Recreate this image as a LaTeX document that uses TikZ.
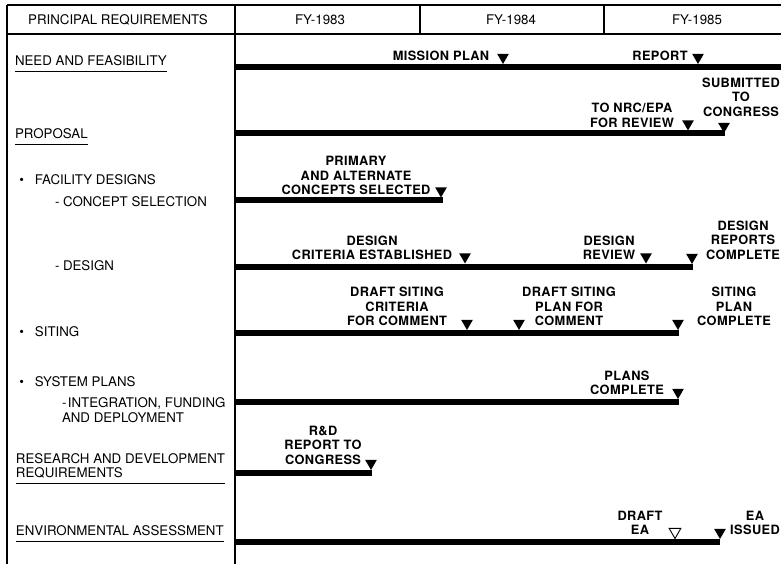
\documentclass[tikz,border=0pt]{standalone}
\usepackage{fontspec}
\setmainfont{TeX Gyre Heros}[BoldFeatures={LetterSpace=3}]
\usetikzlibrary{shapes.geometric,positioning}

\begin{document}
\begin{tikzpicture}[x=1pt,y=-1pt,
  every node/.append style={inner sep=0pt, outer sep=0pt, text=black},
  hdr/.style={font=\fontsize{13.3}{14.5}\selectfont},
  req/.style={anchor=west, align=left, font=\fontsize{13.3}{14.5}\selectfont},
  lbl/.style={align=center, font=\bfseries\fontsize{12.8}{14.5}\selectfont},
  tri/.style={regular polygon, regular polygon sides=3, shape border rotate=180,
    fill=black, minimum size=13.5pt, anchor=corner 1},
  opentri/.style={tri, fill=white, draw=black, line width=0.9pt},
  bar/.style={draw, line width=6pt},
  rule/.style={draw, line width=1.2pt},
  uline/.style={draw, line width=1pt}]
\useasboundingbox (0,0) rectangle (781,564);

% table
\draw[rule] (7,5) -- (781,5);
\draw[rule] (7,34) -- (781,34);
\draw[rule] (7,5) -- (7,564);
\draw[rule] (235,5) -- (235,564);
\draw[rule] (420,5) -- (420,34);
\draw[rule] (604,5) -- (604,34);
\node[hdr] (h-req) at (118,20) {PRINCIPAL REQUIREMENTS};
\node[hdr] (h-83) at (320,20) {FY-1983};
\node[hdr] (h-84) at (511,20) {FY-1984};
\node[hdr] (h-85) at (697,20) {FY-1985};

% requirements
\node[req] (need) at (15,61) {NEED AND FEASIBILITY};
\node[req] (proposal) at (15,134) {PROPOSAL};
\node[req] (facility) at (19.5,180) {\textbullet\hspace{10.8pt}FACILITY DESIGNS};
\node[req] (concept) at (55,202) {-\hspace{3.6pt}CONCEPT SELECTION};
\node[req] (design) at (55,266) {-\hspace{3.6pt}DESIGN};
\node[req] (siting) at (19.5,332) {\textbullet\hspace{10.8pt}SITING};
\node[req] (sysplans) at (19.5,382) {\textbullet\hspace{10.8pt}SYSTEM PLANS};
\node[req] (integration) at (62,410) {-\hspace{1.5pt}INTEGRATION, FUNDING\\AND DEPLOYMENT};
\node[req] (research) at (16,466) {RESEARCH AND DEVELOPMENT\\REQUIREMENTS};
\node[req] (environ) at (16,531) {ENVIRONMENTAL ASSESSMENT};
\foreach \n in {need,proposal,research,environ}
  \draw[uline] ([yshift=-5pt]\n.south west) -- ([yshift=-5pt]\n.south east);

% bars
\foreach \n/\y/\e in {need/67/790,proposal/133/725,concept/200/443,design/266.5/693,
    siting/333/679,sysplans/402/679,research/473/372,environ/542/720} {
  \coordinate (\n-s) at (235,\y);
  \coordinate (\n-e) at (\e,\y);
  \draw[bar] (\n-s) -- (\n-e);
}

% milestones
\node[tri] (t-mission) at (503,64) {};
\node[tri] (t-report) at (698,64) {};
\node[tri] (t-review) at (688,130.5) {};
\node[tri] (t-submit) at (724,133) {};
\node[tri] (t-concept) at (441,197.5) {};
\node[tri] (t-criteria) at (465,263.5) {};
\node[tri] (t-dreview) at (646,263.5) {};
\node[tri] (t-dreports) at (692,264) {};
\node[tri] (t-scriteria) at (467,330) {};
\node[tri] (t-splan) at (519,330) {};
\node[tri] (t-scomplete) at (678,330) {};
\node[tri] (t-plans) at (678,399) {};
\node[tri] (t-rnd) at (371,470) {};
\node[opentri] (t-draftea) at (675,538.5) {};
\node[tri] (t-eaissued) at (720,539) {};

\node[lbl] (l-mission) at (441,56) {MISSION PLAN};
\node[lbl] (l-report) at (660,56) {REPORT};
\node[lbl] (l-review) at (632,115.5) {TO NRC/EPA\\FOR REVIEW};
\node[lbl] (l-submit) at (741,97) {SUBMITTED\\TO\\CONGRESS};
\node[lbl] (l-concept) at (356,175.5) {PRIMARY\\AND ALTERNATE\\CONCEPTS SELECTED};
\node[lbl] (l-criteria) at (372,248) {DESIGN\\CRITERIA ESTABLISHED};
\node[lbl] (l-dreview) at (609,248) {DESIGN\\REVIEW};
\node[lbl] (l-dreports) at (743,240) {DESIGN\\REPORTS\\COMPLETE};
\node[lbl] (l-scriteria) at (397,306.5) {DRAFT SITING\\CRITERIA\\FOR COMMENT};
\node[lbl] (l-splan) at (569,306.5) {DRAFT SITING\\PLAN FOR\\COMMENT};
\node[lbl] (l-scomplete) at (734,306.5) {SITING\\PLAN\\COMPLETE};
\node[lbl] (l-plans) at (627,383) {PLANS\\COMPLETE};
\node[lbl] (l-rnd) at (323,445) {R\&D\\REPORT TO\\CONGRESS};
\node[lbl] (l-draftea) at (640,523) {DRAFT\\EA};
\node[lbl] (l-eaissued) at (755,523) {EA\\ISSUED};
\end{tikzpicture}
\end{document}
